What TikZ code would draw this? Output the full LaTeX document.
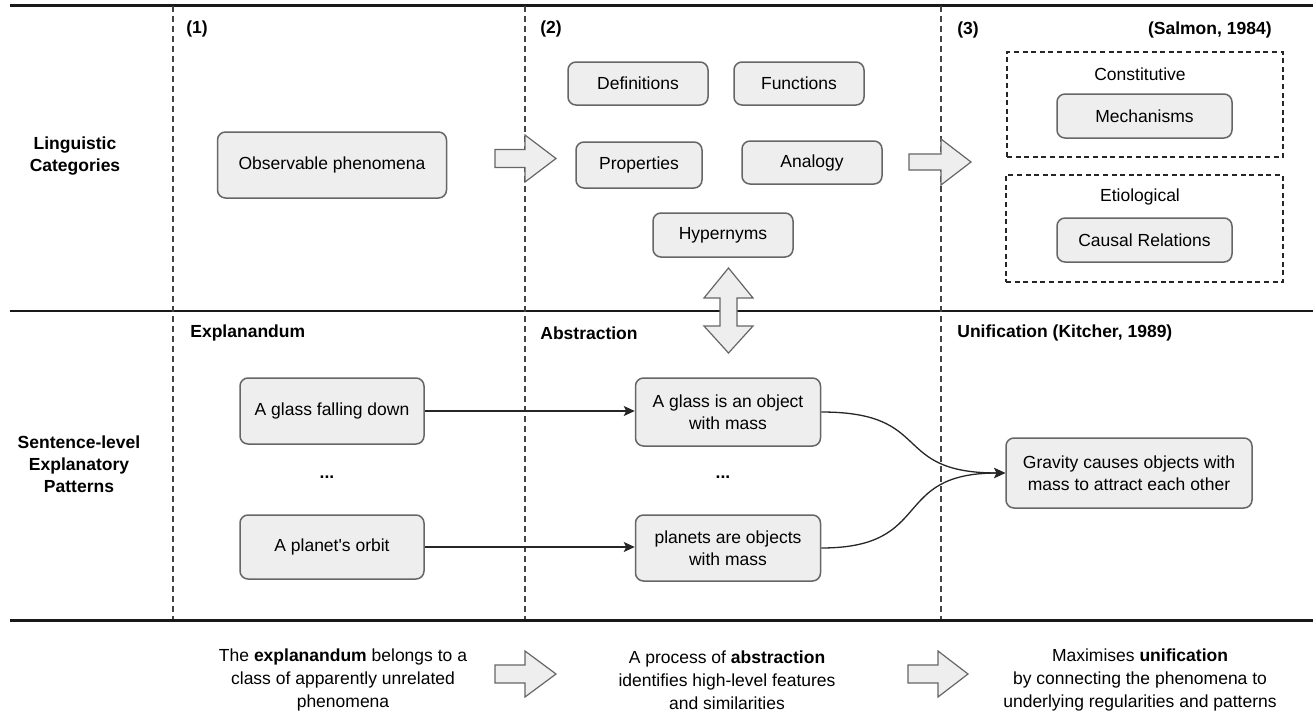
\documentclass[tikz,border=0pt]{standalone}
\usepackage{fontspec}
\setmainfont{Liberation Sans}
\usetikzlibrary{arrows.meta}
\definecolor{boxfill}{HTML}{EEEEEE}
\definecolor{boxline}{HTML}{666666}
\definecolor{dashline}{HTML}{444444}
\begin{document}
\begin{tikzpicture}[x=0.5pt,y=-0.5pt,
  every node/.style={font=\fontsize{8.75}{11.25}\selectfont, inner sep=0pt, text=black},
  wh/.style 2 args={minimum width=#1*0.5pt, minimum height=#2*0.5pt},
  rbox/.style={draw=boxline, fill=boxfill, line width=0.75pt, rounded corners=4pt, align=center},
  dbox/.style={draw=black!85, dash pattern=on 2.5pt off 1.8pt, line width=0.6pt},
  lbl/.style={font=\fontsize{8.75}{11.25}\selectfont\bfseries, align=center},
  btext/.style={font=\fontsize{8.75}{11.5}\selectfont, align=center},
  hline/.style={draw=black!90, line width=1.5pt},
  vdash/.style={draw=dashline, line width=0.75pt, dash pattern=on 3pt off 2pt},
  barrow/.style={draw=boxline, fill=boxfill, line width=0.6pt, line join=miter},
  conn/.style={draw=black!85, line width=0.65pt, -{Stealth[length=5.5pt,width=5pt,inset=1.2pt]}}
]
\useasboundingbox (0,0) rectangle (1313,712);

% horizontal rules
\draw[hline] (10,5) -- (1313,5);
\draw[hline, line width=1.2pt] (10,311) -- (1313,311);
\draw[hline] (10,620) -- (1313,620);

% dashed column separators
\draw[vdash] (173,6) -- (173,619);
\draw[vdash] (525,6) -- (525,619);
\draw[vdash] (941,6) -- (941,619);

% row labels
\node[lbl] (lingcat) at (75,156) {Linguistic\\Categories};
\node[lbl, font=\fontsize{8.75}{11}\selectfont\bfseries] (sentpat) at (79,464) {Sentence-level\\Explanatory\\Patterns};

% column labels
\node[lbl, anchor=west] (c1) at (186,29) {(1)};
\node[lbl, anchor=west] (c2) at (540,29) {(2)};
\node[lbl, anchor=west] (c3) at (957,30) {(3)};
\node[lbl, anchor=east] (salmon) at (1272,30) {(Salmon, 1984)};
\node[lbl, anchor=west] (expl) at (190,333) {Explanandum};
\node[lbl, anchor=west] (abst) at (540,333) {Abstraction};
\node[lbl, anchor=west] (unif) at (957,333) {Unification (Kitcher, 1989)};

% row 1 boxes
\node[rbox, wh={229}{66}] (obs) at (332,165) {Observable phenomena};
\node[rbox, wh={140}{43}] (defs) at (638,83.5) {Definitions};
\node[rbox, wh={130}{43}] (func) at (799,83.5) {Functions};
\node[rbox, wh={126}{46}] (prop) at (639,165) {Properties};
\node[rbox, wh={140}{43}] (anal) at (812,162.5) {Analogy};
\node[rbox, wh={140}{44}] (hyp) at (723,235) {Hypernyms};

% dashed groups
\node[dbox, wh={276}{105}] (constbox) at (1145,104.5) {};
\node[dbox, wh={277}{107}] (etiobox) at (1144.5,228.5) {};
\node (const) at (1140,74) {Constitutive};
\node (etio) at (1140,197) {Etiological};
\node[rbox, wh={175}{44}] (mech) at (1144.5,116) {Mechanisms};
\node[rbox, wh={175}{44}] (causal) at (1144.5,240) {Causal Relations};

% row 2 boxes
\node[rbox, wh={184}{66}] (glass) at (332,411) {A glass falling down};
\node[rbox, wh={184}{64}] (planet) at (332,547) {A planet\textquotesingle s orbit};
\node[rbox, wh={185}{68}] (gabs) at (728,412) {A glass is an object\\with mass};
\node[rbox, wh={185}{66}] (pabs) at (728,548) {planets are objects\\with mass};
\node[rbox, wh={246}{70}] (grav) at (1129,473) {Gravity causes objects with\\mass to attract each other};
\node[font=\fontsize{8.75}{11.25}\selectfont\bfseries] (dots1) at (327,477) {...};
\node[font=\fontsize{8.75}{11.25}\selectfont\bfseries] (dots2) at (723,477) {...};

% connectors
\draw[conn] (glass.east) -- (gabs.west |- glass.east);
\draw[conn] (planet.east) -- (pabs.west |- planet.east);
\draw[conn] (gabs.east) .. controls +(114,0) and +(-116,0) .. (grav.west);
\draw[conn] (pabs.east) .. controls +(114,0) and +(-116,0) .. (grav.west);

% block arrows (top)
\draw[barrow] (495,149.5) -- (525,149.5) -- (525,135) -- (556,158.5) -- (525,182) -- (525,167.5) -- (495,167.5) -- cycle;
\draw[barrow] (909,154) -- (941,154) -- (941,139) -- (971,162) -- (941,185) -- (941,170) -- (909,170) -- cycle;
% double vertical arrow
\draw[barrow] (728.5,268) -- (753,298) -- (737,298) -- (737,326) -- (753,326) -- (728.5,353) -- (704,326) -- (720,326) -- (720,298) -- (704,298) -- cycle;
% block arrows (bottom)
\draw[barrow] (495,665) -- (525,665) -- (525,651) -- (556,674) -- (525,697) -- (525,683) -- (495,683) -- cycle;
\draw[barrow] (908,665) -- (938,665) -- (938,651) -- (968,674) -- (938,697) -- (938,683) -- (908,683) -- cycle;

% bottom captions
\node[btext] (cap1) at (343,680) {The \textbf{explanandum} belongs to a\\class of apparently unrelated\\phenomena};
\node[btext] (cap2) at (727,680) {A process of \textbf{abstraction}\\identifies high-level features\\and similarities};
\node[btext] (cap3) at (1140,680) {Maximises \textbf{unification}\\by connecting the phenomena to\\underlying regularities and patterns};
\end{tikzpicture}
\end{document}
